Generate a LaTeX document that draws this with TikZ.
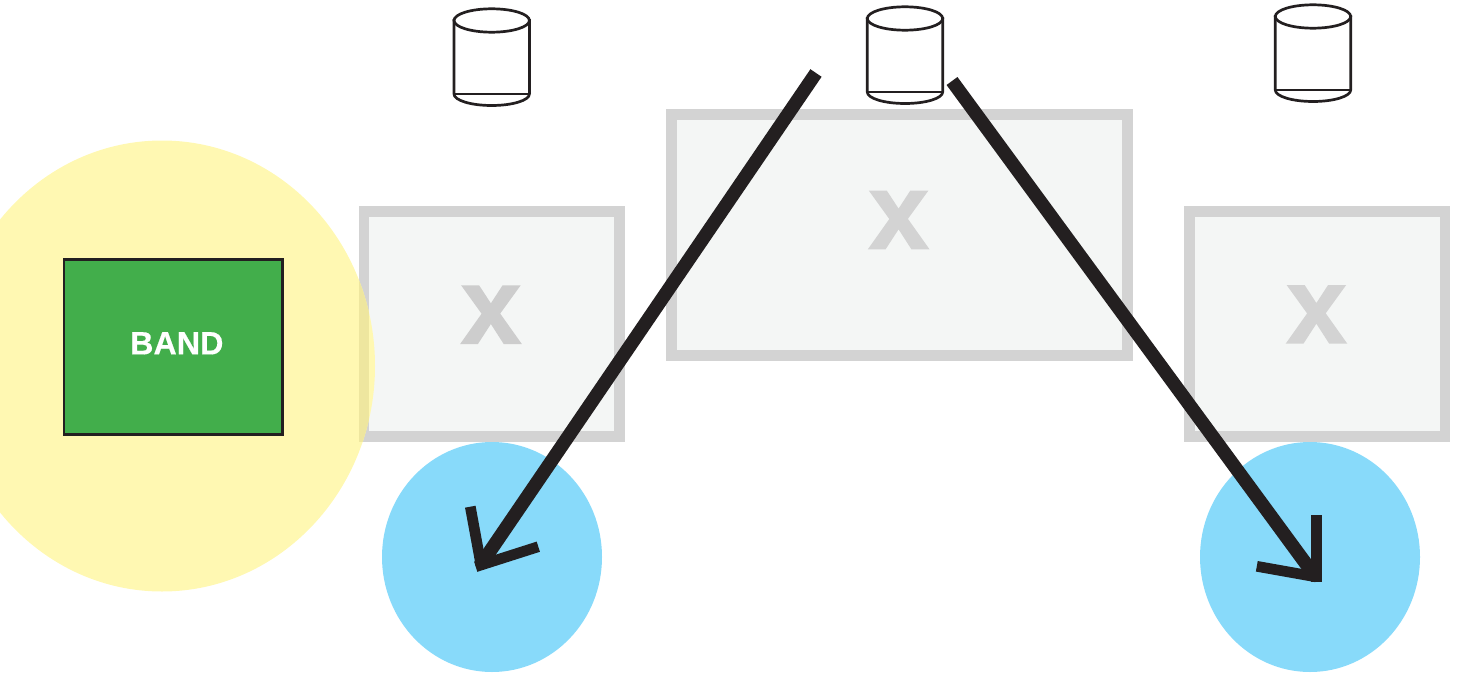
\documentclass[tikz,border=0pt]{standalone}
\usepackage{fontspec}
\setmainfont{Liberation Sans}
\newfontfamily\xfont[BoldFeatures={FakeBold=1.5}]{Liberation Sans}
\newfontfamily\bandfont[BoldFeatures={FakeBold=0.4}]{Liberation Sans}
\definecolor{yel}{HTML}{FFF8B2}
\definecolor{bord}{HTML}{D3D3D3}
\definecolor{bordy}{HTML}{EEE69F}
\definecolor{boxf}{HTML}{F4F6F5}
\definecolor{grn}{HTML}{42AE4B}
\definecolor{sky}{HTML}{88DAFA}
\definecolor{ink}{HTML}{231F20}
\definecolor{xc}{HTML}{D3D3D3}
\definecolor{xd}{HTML}{CDCDCD}
\tikzset{
  graybox/.style={draw=bord,fill=boxf,line width=10.7pt,rectangle,inner sep=0pt,anchor=north west},
  xmark/.style={font=\fontsize{108}{108}\selectfont\xfont\bfseries,inner sep=0pt,anchor=base},
  can/.style={draw=ink,line width=2.7pt,fill=white},
  shaft/.style={draw=ink,line width=13.5pt},
  barb/.style={draw=ink,line width=10.7pt},
}
\begin{document}
\begin{tikzpicture}[x=1pt,y=-1pt]
\useasboundingbox (0,0) rectangle (1458,674);
\clip (0,0) rectangle (1458,674);
\node[graybox,minimum width=255.8pt,minimum height=225pt] (b1) at (358.5,206) {};
\node[graybox,minimum width=455.7pt,minimum height=241.3pt] (b2) at (666.3,109) {};
\node[graybox,minimum width=255.3pt,minimum height=225pt] (b3) at (1184.3,206) {};
\node[xmark,text=xd] (x1) at (491,343.2) {x};
\node[xmark,text=xc] (x2) at (898.7,248.5) {x};
\node[xmark,text=xc] (x3) at (1316.5,342.9) {x};
\fill[yel] (162,366) ellipse [x radius=213,y radius=225.5];
\begin{scope}
\clip (162,366) ellipse [x radius=213,y radius=225.5];
\node[graybox,draw=bordy,fill=none,minimum width=255.8pt,minimum height=225pt] (b1o) at (358.5,206) {};
\end{scope}
\node[draw=ink,fill=grn,line width=2.7pt,minimum width=218.6pt,minimum height=174.7pt,inner sep=0pt,anchor=north west] (band) at (62.7,258.3) {};
\node[text=white,font=\fontsize{32.3}{32.3}\selectfont\bandfont\bfseries,inner sep=0pt,anchor=base] (bandt) at (176.8,354.4) {BAND};
\fill[sky] (492,557) ellipse [x radius=110,y radius=115];
\fill[sky] (1310,557) ellipse [x radius=110,y radius=115];
\foreach \n/\cx/\cy in {c1/491.7/20.5,c2/905/18.5,c3/1313/16.5}{
  \begin{scope}[shift={(\cx,\cy)}]
    \path[can] (-37.7,0) -- (-37.7,73.5) arc[start angle=180,end angle=0,x radius=37.7,y radius=11.5] -- (37.7,0) -- cycle;
    \draw[can,fill=none] (-37.7,73.5) -- (37.7,73.5);
    \draw[can] (0,0) ellipse [x radius=37.7,y radius=11.7];
  \end{scope}
}
\coordinate (s1) at (816,73);
\coordinate (t1) at (484,560);
\coordinate (a1) at (470.3,506.7);
\coordinate (a1e) at (481,565);
\coordinate (a2) at (538.3,546.7);
\coordinate (a2e) at (475.7,566.7);
\coordinate (s2) at (952,81);
\coordinate (t2) at (1312,572);
\coordinate (a3) at (1316.3,515);
\coordinate (a3e) at (1316.3,582.3);
\coordinate (a4) at (1256.8,566.3);
\coordinate (a4e) at (1316.3,576.9);
\draw[shaft] (s1) -- (t1);
\draw[barb] (a1) -- (a1e);
\draw[barb] (a2) -- (a2e);
\draw[shaft] (s2) -- (t2);
\draw[barb] (a3) -- (a3e);
\draw[barb] (a4) -- (a4e);
\end{tikzpicture}
\end{document}
